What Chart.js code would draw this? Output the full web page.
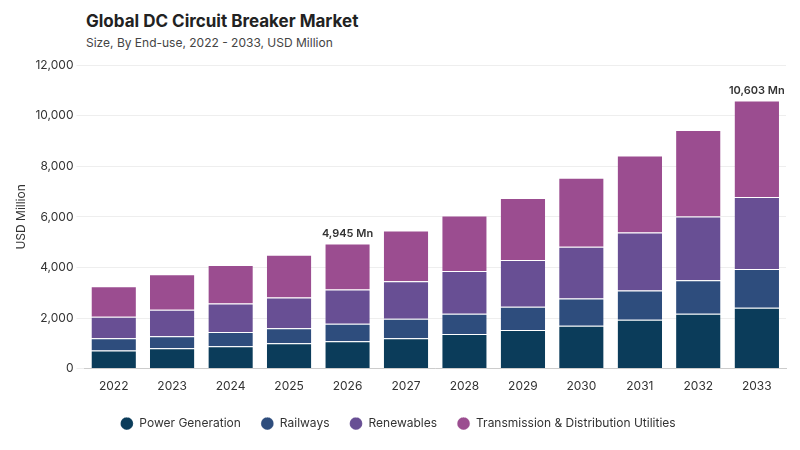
<!DOCTYPE html>
<html><head><meta charset="utf-8">
<script src="https://cdn.jsdelivr.net/npm/chart.js@4"></script>
<style>
body{margin:0;width:800px;height:450px;background:#fff;font-family:Inter,sans-serif;position:relative;overflow:hidden}
#t{position:absolute;left:86px;top:11px;font-size:17px;font-weight:700;color:#222}
#s{position:absolute;left:86px;top:35px;font-size:12px;color:#444}
#w{position:absolute;left:0;top:55px;width:800px;height:395px}
</style></head><body>
<div id="t">Global DC Circuit Breaker Market</div>
<div id="s">Size, By End-use, 2022 - 2033, USD Million</div>
<div id="w"><canvas id="c"></canvas></div>
<script>
const years=["2022","2023","2024","2025","2026","2027","2028","2029","2030","2031","2032","2033"];
const powerGeneration=[720,800,880,1000,1080,1200,1370,1530,1690,1930,2170,2410];
const railways=[480,480,570,600,690,770,800,920,1080,1160,1320,1530];
const renewables=[850,1050,1120,1210,1360,1480,1690,1850,2050,2290,2530,2850];
const transmission=[1210,1400,1530,1690,1815,2010,2200,2450,2730,3050,3420,3813];
const labelled={"2026":"4,945 Mn","2033":"10,603 Mn"};
const totals=years.map((y,i)=>powerGeneration[i]+railways[i]+renewables[i]+transmission[i]);
const topLabels={id:'tl',afterDatasetsDraw(ch){const ctx=ch.ctx;const m=ch.getDatasetMeta(3);
ctx.save();ctx.font='600 11px Inter';ctx.fillStyle='#333';ctx.textAlign='center';
years.forEach((y,i)=>{if(labelled[y]){const b=m.data[i];ctx.fillText(labelled[y],b.x,b.y-10);}});ctx.restore();}};
new Chart(document.getElementById('c'),{type:'bar',
data:{labels:years,datasets:[
{label:'Power Generation',data:powerGeneration,backgroundColor:'#0b3c5a'},
{label:'Railways',data:railways,backgroundColor:'#2e4d7d'},
{label:'Renewables',data:renewables,backgroundColor:'#684f94'},
{label:'Transmission & Distribution Utilities',data:transmission,backgroundColor:'#9b4d90'}]},
options:{responsive:true,maintainAspectRatio:false,animation:false,
layout:{padding:{left:10,right:14,top:10,bottom:10}},
datasets:{bar:{categoryPercentage:0.8,barPercentage:0.95,borderColor:'rgba(255,255,255,0.6)',borderWidth:{top:1}}},
scales:{x:{stacked:true,grid:{display:false},border:{color:'#ccc'},ticks:{color:'#333',font:{family:'Inter',size:12}}},
y:{stacked:true,min:0,max:12000,ticks:{stepSize:2000,color:'#333',font:{family:'Inter',size:12},callback:v=>v.toLocaleString('en-US')},
grid:{color:'#eee'},border:{display:false},title:{display:true,text:'USD Million',color:'#333',font:{family:'Inter',size:12}}}},
plugins:{legend:{position:'bottom',labels:{boxWidth:13,boxHeight:13,useBorderRadius:true,borderRadius:7,padding:20,color:'#333',font:{family:'Inter',size:12}}},tooltip:{enabled:false}}},
plugins:[topLabels]});
</script></body></html>
